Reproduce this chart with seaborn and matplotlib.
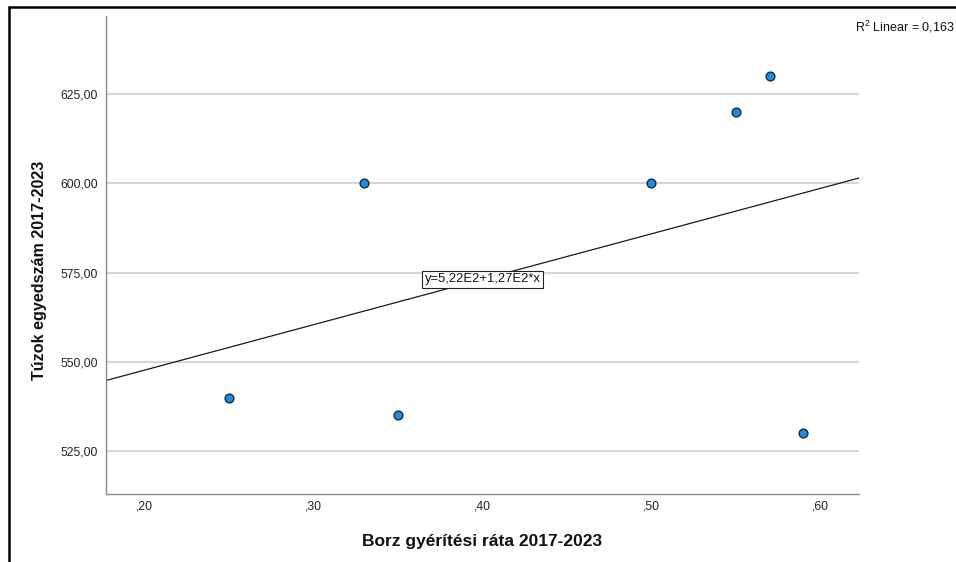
import numpy as np
import pandas as pd
import matplotlib
matplotlib.use("Agg")
import matplotlib.pyplot as plt
from matplotlib.lines import Line2D
import seaborn as sns

# Badger culling rate vs. great bustard count, 2017-2023
borz_rata = [0.25, 0.33, 0.35, 0.50, 0.55, 0.57, 0.59]
tuzok_szam = [540, 600, 535, 600, 620, 630, 530]

x_ticks = [0.20, 0.30, 0.40, 0.50, 0.60]
x_tick_labels = [",20", ",30", ",40", ",50", ",60"]
y_ticks = [525, 550, 575, 600, 625]
y_tick_labels = ["525,00", "550,00", "575,00", "600,00", "625,00"]

x_label = "Borz gyérítési ráta 2017-2023"
y_label = "Túzok egyedszám 2017-2023"

df = pd.DataFrame({"x": borz_rata, "y": tuzok_szam})

sns.set_theme(style="white")
plt.rcParams["font.family"] = ["Liberation Sans", "DejaVu Sans"]
plt.rcParams["mathtext.fontset"] = "custom"
plt.rcParams["mathtext.rm"] = "Liberation Sans"

fig = plt.figure(figsize=(9.56, 5.62), dpi=100)
ax = fig.add_axes([106 / 956, 1 - 494 / 562, (859 - 106) / 956, (494 - 16) / 562])

ax.set_xlim(0.177, 0.623)
ax.set_ylim(513.0, 646.8)

# horizontal grid lines
for yt in y_ticks:
    ax.axhline(yt, color="#d6d6d6", lw=1.5, zorder=0)

# least-squares fit drawn across the full x range
sns.regplot(data=df, x="x", y="y", ax=ax, ci=None, truncate=False,
            scatter=False, line_kws=dict(color="#1a1a1a", lw=0.9, zorder=2))
sns.scatterplot(data=df, x="x", y="y", ax=ax, s=40, color="#1b8de0",
                edgecolor="#1d2b3a", linewidth=1.0, zorder=3, legend=False)

slope, intercept = np.polyfit(borz_rata, tuzok_szam, 1)
r2 = np.corrcoef(borz_rata, tuzok_szam)[0, 1] ** 2

def hu(v, d):
    return f"{v:.{d}f}".replace(".", ",")

def sci(v):
    e = int(np.floor(np.log10(abs(v))))
    return f"{hu(v / 10**e, 2)}E{e}"

eq_x = 0.40
ax.text(eq_x, intercept + slope * eq_x, f"y={sci(intercept)}+{sci(slope)}*x",
        ha="center", va="center", fontsize=9.4, color="#111111", zorder=4,
        bbox=dict(boxstyle="square,pad=0.2", fc="white", ec="#222222", lw=0.8))

ax.set_xticks(x_ticks)
ax.set_xticklabels(x_tick_labels)
ax.set_yticks(y_ticks)
ax.set_yticklabels(y_tick_labels)
ax.tick_params(axis="both", length=0, labelsize=8.7, colors="#222222")
ax.tick_params(axis="x", pad=5)
ax.tick_params(axis="y", pad=6)

for s in ["top", "right"]:
    ax.spines[s].set_visible(False)
for s in ["left", "bottom"]:
    ax.spines[s].set_color("#8a8a8a")
    ax.spines[s].set_linewidth(1.0)

ax.set_xlabel(x_label, fontsize=12.5, fontweight="bold", color="#111111", labelpad=15)
ax.set_ylabel(y_label, fontsize=11.6, fontweight="bold", color="#111111")
ax.yaxis.set_label_coords((47 - 106) / 753, 1 - (270 - 16) / 478)

fig.text(955 / 956, 1 - 27 / 562, f"R$^2$ Linear = {hu(r2, 3)}",
         ha="right", va="center", fontsize=9.0, color="#111111")

# outer frame (top and left edges)
fig.add_artist(Line2D([8.5 / 956, 1.0], [1 - 6.5 / 562] * 2, color="black", lw=1.8,
                      transform=fig.transFigure))
fig.add_artist(Line2D([8.5 / 956] * 2, [0.0, 1 - 6.5 / 562], color="black", lw=1.8,
                      transform=fig.transFigure))

fig.savefig("out.png", dpi=100, facecolor="white")
